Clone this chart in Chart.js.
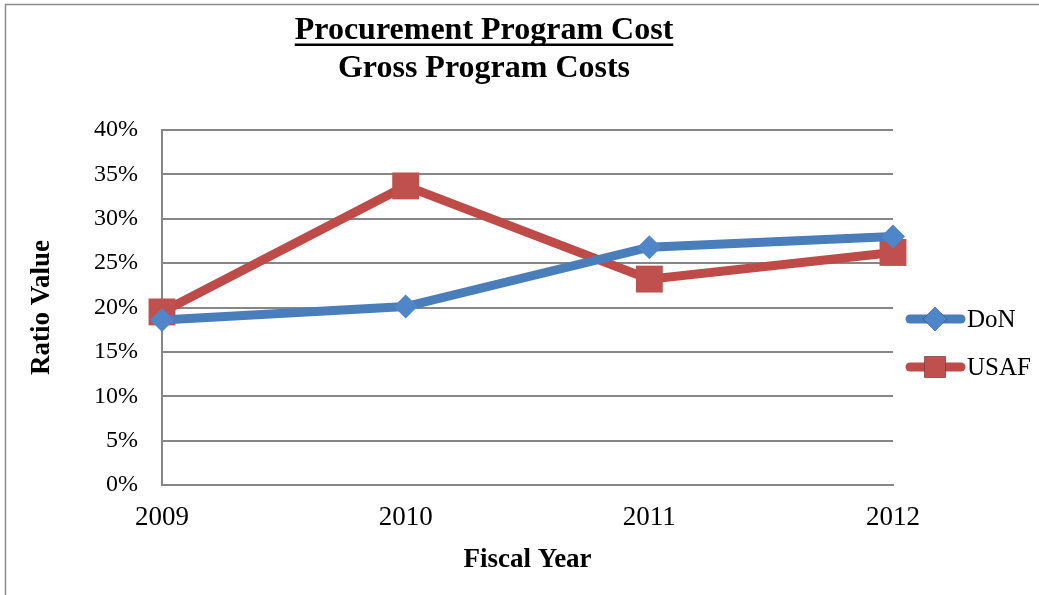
<!DOCTYPE html>
<html>
<head>
<meta charset="utf-8">
<title>Procurement Program Cost</title>
<script src="https://cdn.jsdelivr.net/npm/chart.js@4/dist/chart.umd.min.js"></script>
<style>
  html, body { margin: 0; padding: 0; background: #fff; }
  #wrap { width: 1039px; height: 595px; position: relative; }
</style>
</head>
<body>
<div id="wrap"><canvas id="costChart" width="1039" height="595"></canvas></div>
<script>
// Fiscal years and the two ratio series (percent)
var years = ['2009', '2010', '2011', '2012'];
var donValues = [18.6, 20.1, 26.8, 28.0];
var usafValues = [19.5, 33.7, 23.2, 26.2];
var yTicks = [0, 5, 10, 15, 20, 25, 30, 35, 40];

var titleLines = ['Procurement Program Cost', 'Gross Program Costs'];
var serif = "'Liberation Serif', 'Times New Roman', serif";

// Frame, underlined two-line title and the side legend
var decorations = {
  id: 'decorations',
  beforeDraw: function (chart) {
    var ctx = chart.ctx;
    ctx.save();
    ctx.fillStyle = '#fff';
    ctx.fillRect(0, 0, chart.width, chart.height);
    ctx.strokeStyle = '#8c8c8c';
    ctx.lineWidth = 1.5;
    ctx.beginPath();
    ctx.moveTo(5.5, chart.height);
    ctx.lineTo(5.5, 4.5);
    ctx.lineTo(chart.width, 4.5);
    ctx.stroke();
    ctx.restore();
  },
  afterDraw: function (chart) {
    var ctx = chart.ctx;
    ctx.save();
    ctx.fillStyle = '#000';
    ctx.textAlign = 'center';
    ctx.textBaseline = 'alphabetic';
    ctx.font = 'bold 32px ' + serif;
    var cx = 484;
    ctx.fillText(titleLines[0], cx, 39);
    var w = ctx.measureText(titleLines[0]).width;
    ctx.fillRect(cx - w / 2, 43.5, w, 2.5);
    ctx.fillText(titleLines[1], cx, 77);

    // legend entries: line + marker + label
    chart.data.datasets.forEach(function (ds, i) {
      var y = 319 + i * 48;
      ctx.strokeStyle = ds.borderColor;
      ctx.lineWidth = 9;
      ctx.lineCap = 'round';
      ctx.beginPath();
      ctx.moveTo(910, y);
      ctx.lineTo(961, y);
      ctx.stroke();
      Chart.helpers.drawPoint(ctx, {
        pointStyle: ds.pointStyle,
        radius: ds.pointStyle === 'rect' ? 15 : 12,
        borderWidth: 0
      }, 935, y);
      ctx.fillStyle = ds.pointBackgroundColor;
      ctx.fill();
      ctx.fillStyle = '#000';
      ctx.textAlign = 'left';
      ctx.textBaseline = 'middle';
      ctx.font = '25px ' + serif;
      ctx.fillText(ds.label, 967, y + 1);
    });
    ctx.restore();
  }
};

new Chart(document.getElementById('costChart'), {
  type: 'line',
  data: {
    labels: years,
    datasets: [{
      label: 'DoN',
      data: donValues,
      borderColor: '#4A7EBB',
      backgroundColor: '#4F86CA',
      pointBackgroundColor: '#4F86CA',
      pointBorderWidth: 0,
      pointStyle: 'rectRot',
      pointRadius: 12,
      borderWidth: 9,
      tension: 0,
      clip: false
    }, {
      label: 'USAF',
      data: usafValues,
      borderColor: '#BE4B48',
      backgroundColor: '#C0504D',
      pointBackgroundColor: '#C0504D',
      pointBorderWidth: 0,
      pointStyle: 'rect',
      pointRadius: 19,
      borderWidth: 9,
      tension: 0,
      clip: false
    }]
  },
  plugins: [decorations],
  options: {
    responsive: false,
    animation: false,
    layout: { padding: { top: 130, right: 146, left: 0, bottom: 0 } },
    plugins: {
      legend: { display: false },
      title: { display: false },
      tooltip: { enabled: false }
    },
    scales: {
      x: {
        grid: { display: false, drawTicks: false },
        border: { color: '#868686', width: 2 },
        ticks: {
          color: '#000',
          padding: 17,
          maxRotation: 0,
          font: { family: serif, size: 27 }
        },
        title: {
          display: true,
          text: 'Fiscal Year',
          color: '#000',
          font: { family: serif, size: 27, weight: 'bold' },
          padding: { top: 0, bottom: 19 }
        },
        afterFit: function (scale) { scale.height = 110; }
      },
      y: {
        min: 0,
        max: 40,
        afterBuildTicks: function (scale) {
          scale.ticks = yTicks.map(function (v) { return { value: v }; });
        },
        grid: { color: '#868686', lineWidth: 2, drawTicks: false },
        border: { color: '#868686', width: 2 },
        ticks: {
          color: '#000',
          padding: 24,
          font: { family: serif, size: 24 },
          callback: function (v) { return v + '%'; }
        },
        title: {
          display: true,
          text: 'Ratio Value',
          color: '#000',
          font: { family: serif, size: 27, weight: 'bold' },
          padding: { top: 26, bottom: 0 }
        },
        afterFit: function (scale) { scale.width = 162; }
      }
    }
  }
});
</script>
</body>
</html>
